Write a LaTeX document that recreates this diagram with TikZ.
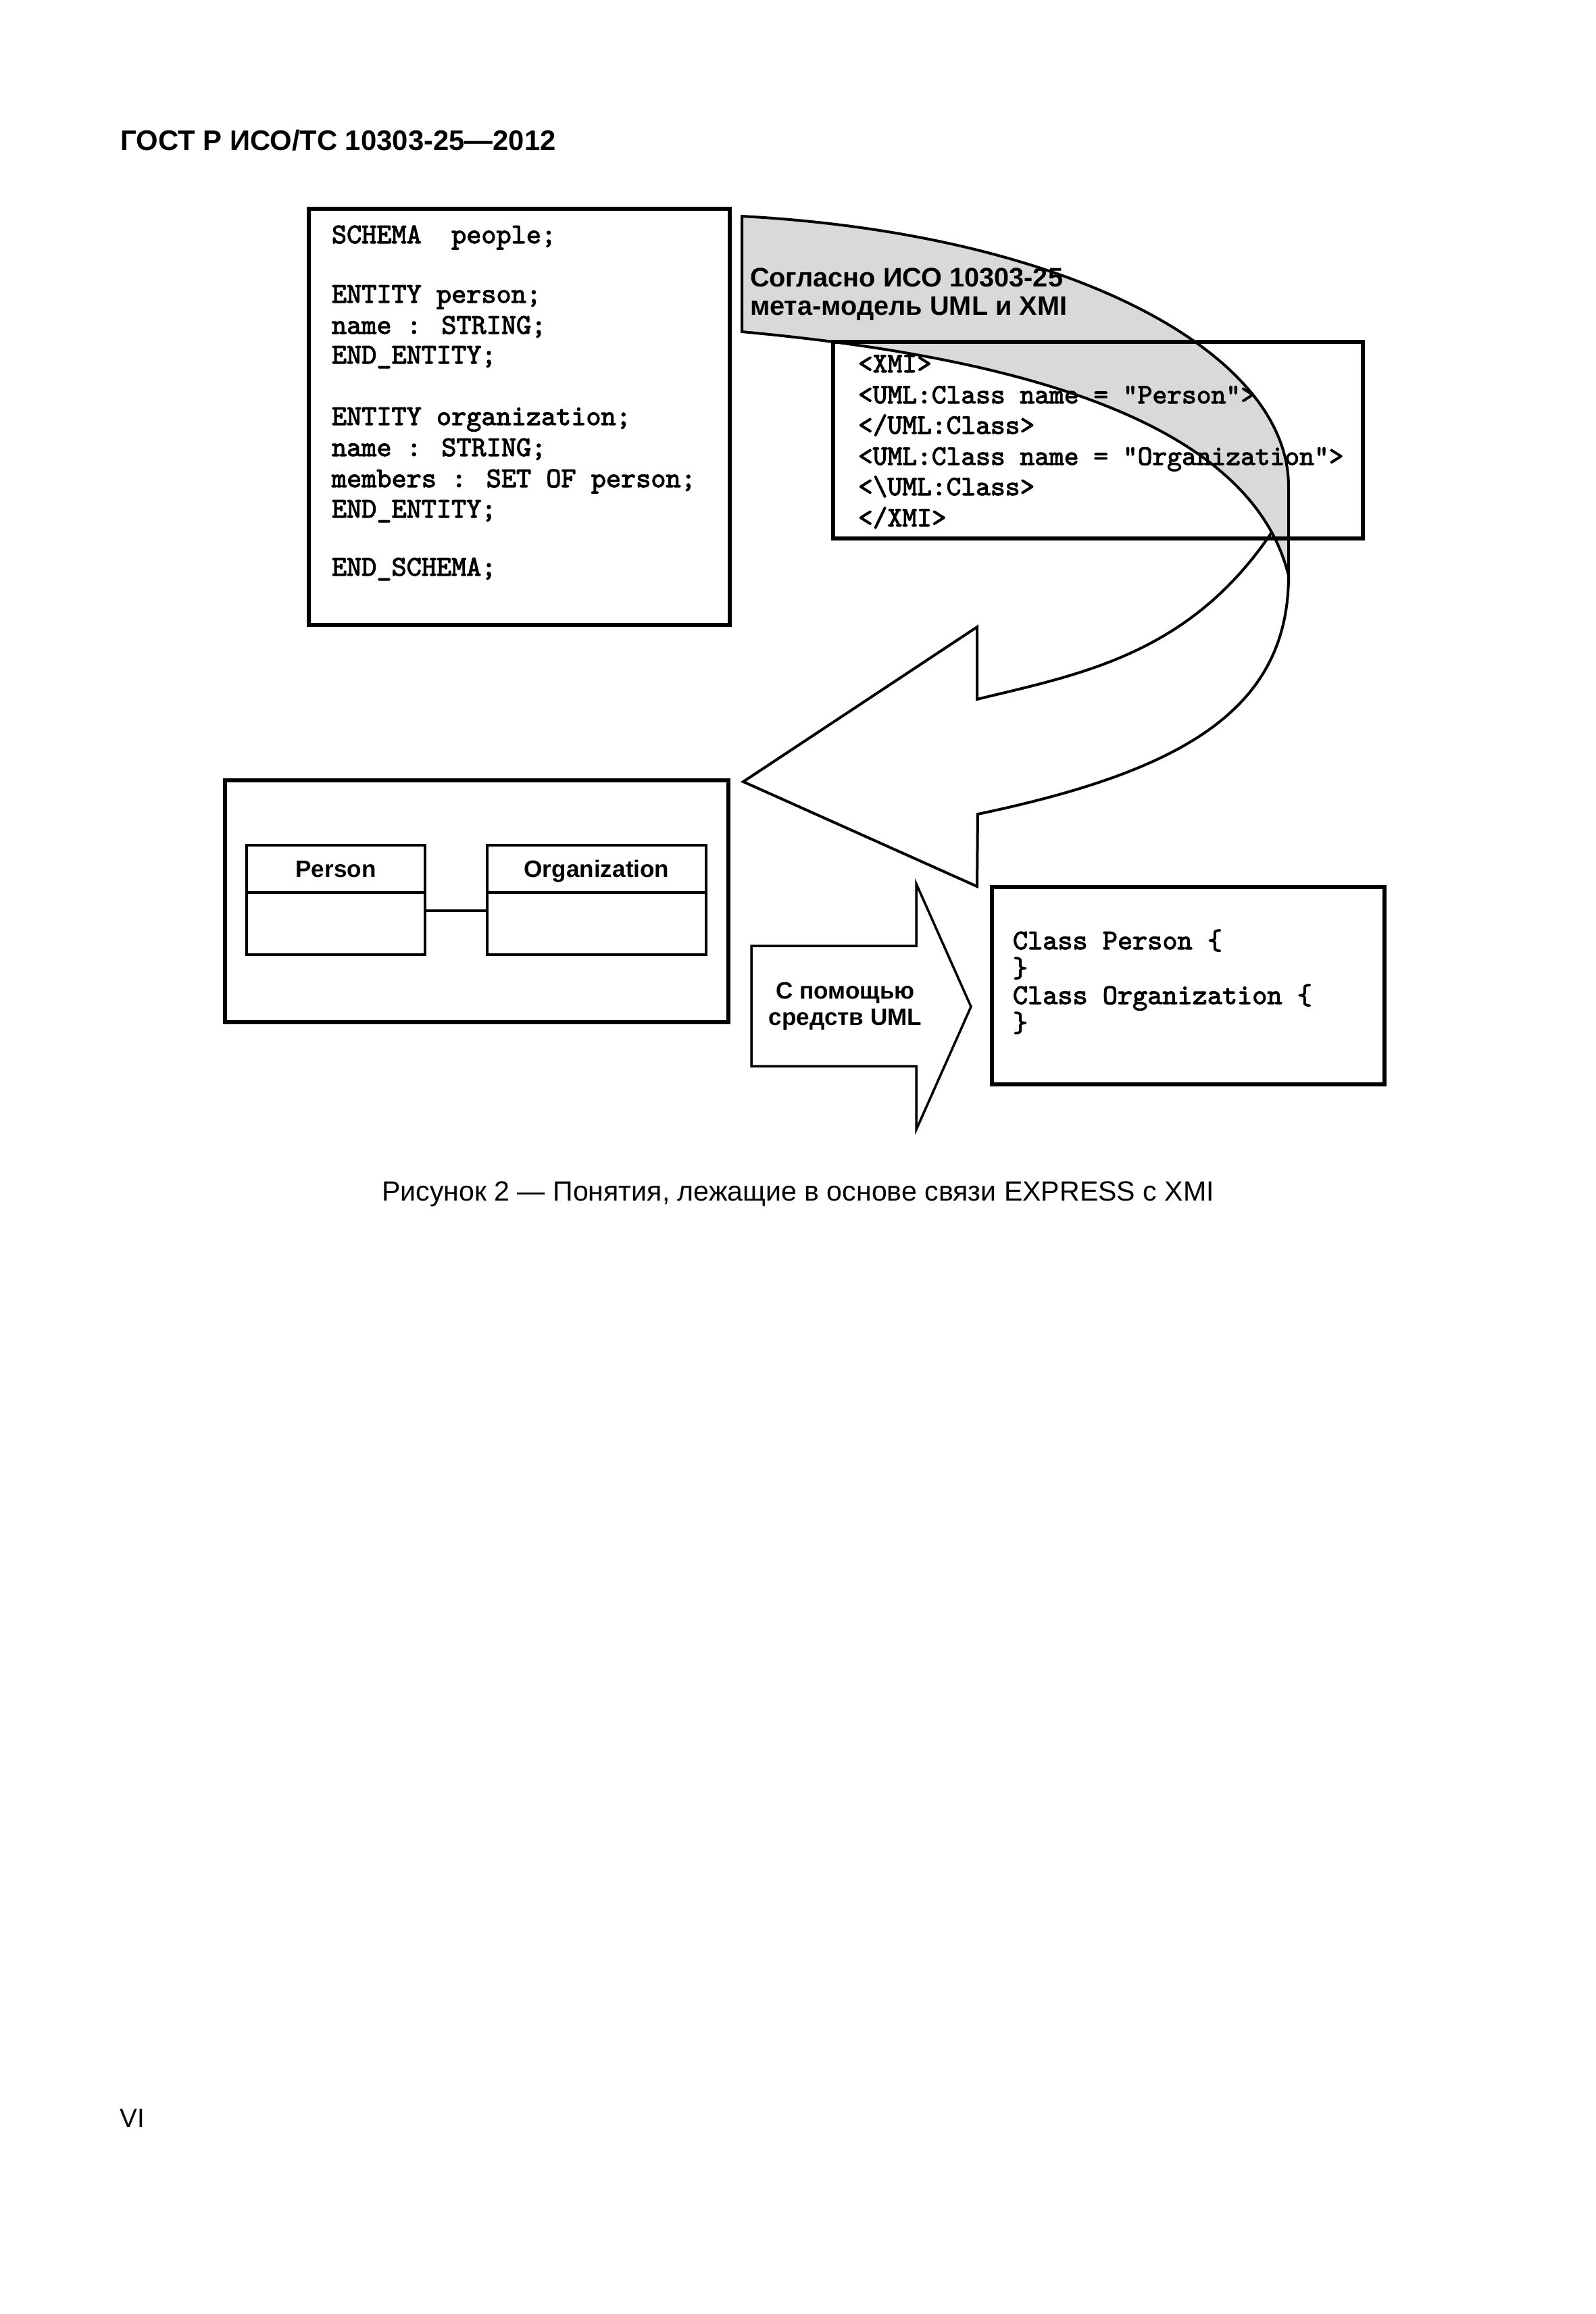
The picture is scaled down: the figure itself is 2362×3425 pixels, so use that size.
\documentclass[tikz,border=0pt]{standalone}
\usepackage{fontspec}
\setmainfont{Liberation Sans}
\newfontfamily\codefont{lmmono10-regular.otf}[FakeBold=2.5]
\newcommand\codesz{\fontsize{12pt}{14pt}\selectfont\codefont}
\newcommand\xmisz{\fontsize{11.8pt}{14pt}\selectfont\codefont}
\definecolor{bandgray}{RGB}{217,217,217}
\begin{document}
\begin{tikzpicture}[x=0.1mm,y=-0.1mm,
  bigbox/.style={draw, line width=0.65mm, inner sep=0, outer sep=0},
  clsbox/.style={draw, line width=0.4mm, inner sep=0, outer sep=0},
  curveline/.style={line width=0.4mm, line join=miter},
  code/.style={anchor=base west, inner sep=0, outer sep=0, font=\codesz},
  xmicode/.style={anchor=base west, inner sep=0, outer sep=0, font=\xmisz},
  lbl/.style={inner sep=0, outer sep=0, font=\fontsize{10pt}{12pt}\selectfont\bfseries},
  band/.style={anchor=base west, inner sep=0, outer sep=0, font=\fontsize{11.3pt}{13pt}\selectfont\bfseries}]
\useasboundingbox (0,0) rectangle (2362,3425);

% header
\node[anchor=base west, inner sep=0, font=\fontsize{11.9pt}{14pt}\selectfont\bfseries] (hdr) at (178,222) {ГОСТ Р ИСО/ТС 10303-25—2012};

% white curved arrow body
\filldraw[fill=white, curveline] (1882,788) .. controls (1759.5,970) and (1597,998) .. (1446,1035)
  -- (1446,928) -- (1100,1157) -- (1446,1312) -- (1447,1205)
  .. controls (1747,1142) and (1907,1052) .. (1907,852);

% gray band
\filldraw[fill=bandgray, curveline] (1098,320) .. controls (1578,346) and (1907,520) .. (1907,720)
  -- (1907,852) .. controls (1850,620) and (1498,528) .. (1098,491) -- cycle;
\node[band] (bt1) at (1110,424) {Согласно ИСО 10303-25};
\node[band] (bt2) at (1110,466) {мета-модель UML и XMI};

% schema box
\node[bigbox, minimum width=62.3mm, minimum height=61.6mm] (schema) at (768.5,617) {};
\node[code] (s1) at (491,360) {SCHEMA\ \ people;};
\node[code] (s2) at (491,448) {ENTITY person;};
\node[code] (s3) at (491,494) {name : STRING;};
\node[code] (s4) at (491,538) {END\_ENTITY;};
\node[code] (s5) at (491,629) {ENTITY organization;};
\node[code] (s6) at (491,675) {name : STRING;};
\node[code] (s7) at (491,721) {members : SET OF person;};
\node[code] (s8) at (491,766) {END\_ENTITY;};
\node[code] (s9) at (491,852) {END\_SCHEMA;};

% XMI box
\node[bigbox, minimum width=78.4mm, minimum height=29.1mm] (xmi) at (1625,651.5) {};
\node[xmicode] (x1) at (1270,551) {<XMI>};
\node[xmicode] (x2) at (1270,597) {<UML:Class name = "Person">};
\node[xmicode] (x3) at (1270,642) {</UML:Class>};
\node[xmicode] (x4) at (1270,688) {<UML:Class name = "Organization">};
\node[xmicode] (x5) at (1270,733) {<\textbackslash UML:Class>};
\node[xmicode] (x6) at (1270,779) {</XMI>};

% UML diagram box
\node[bigbox, minimum width=74.5mm, minimum height=35.8mm] (uml) at (705.5,1334) {};
\node[clsbox, lbl, minimum width=26.4mm, minimum height=7mm, text height=2.5mm, text depth=0mm] (ptitle) at (497,1286) {Person};
\node[clsbox, minimum width=26.4mm, minimum height=9.2mm] (pbody) at (497,1367) {};
\node[clsbox, lbl, minimum width=32.4mm, minimum height=7mm, text height=2.5mm, text depth=0mm] (otitle) at (883,1286) {Organization};
\node[clsbox, minimum width=32.4mm, minimum height=9.2mm] (obody) at (883,1367) {};
\draw[line width=0.4mm] ([yshift=1.9mm]pbody.east) -- ([yshift=1.9mm]obody.west);

% right block arrow
\filldraw[fill=white, line width=0.35mm, line join=miter] (1112,1400) -- (1356,1400) -- (1356,1308)
  -- (1437,1490) -- (1356,1672) -- (1356,1578) -- (1112,1578) -- cycle;
\node[lbl, anchor=base] (a1) at (1251,1478) {С помощью};
\node[lbl, anchor=base] (a2) at (1251,1517) {средств UML};

% class code box
\node[bigbox, minimum width=58.1mm, minimum height=29.2mm] (cls) at (1758.5,1459) {};
\node[code] (c1) at (1499,1405) {Class Person \{};
\node[code] (c2) at (1499,1446) {\}};
\node[code] (c3) at (1499,1486) {Class Organization \{};
\node[code] (c4) at (1499,1527) {\}};

% caption and page number
\node[anchor=base, inner sep=0, font=\fontsize{11.7pt}{14pt}\selectfont] (cap) at (1181,1777) {Рисунок 2 — Понятия, лежащие в основе связи EXPRESS с XMI};
\node[anchor=base west, inner sep=0, font=\fontsize{11pt}{13pt}\selectfont] (pg) at (177,3148) {VI};
\end{tikzpicture}
\end{document}
